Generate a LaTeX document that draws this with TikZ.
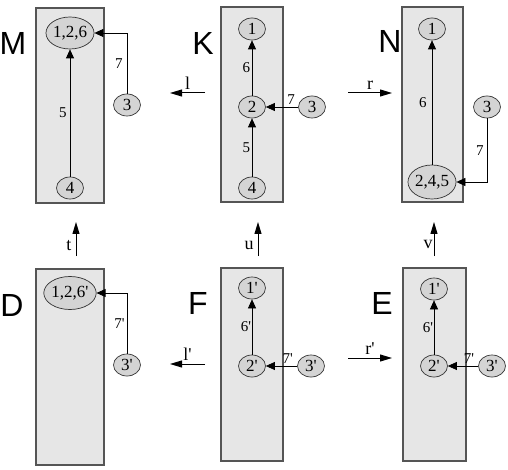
\documentclass[tikz,border=0pt]{standalone}
\usepackage{fontspec}
\setmainfont{Liberation Serif}
\newfontfamily\lblfont{Liberation Sans}
\usetikzlibrary{shapes.geometric,arrows.meta}
\definecolor{boxfill}{HTML}{E6E6E6}
\definecolor{nodefill}{HTML}{D4D4D4}
\definecolor{boxline}{HTML}{555555}
\newcommand{\prm}{\textquotesingle}
\begin{document}
\begin{tikzpicture}[x=1pt,y=-1pt,
  graphbox/.style={draw=boxline, fill=boxfill, line width=1.1pt},
  vtx/.style={ellipse, draw=black!80, fill=nodefill, line width=0.7pt, inner sep=0pt,
    minimum width=27pt, minimum height=22pt, font=\fontsize{17}{17}\selectfont},
  bigvtx/.style={vtx, minimum width=45pt, minimum height=32pt},
  edge/.style={draw, line width=0.7pt, -{Triangle[length=9pt,width=8pt]}},
  elabel/.style={font=\fontsize{15}{15}\selectfont, inner sep=0pt},
  mlabel/.style={font=\fontsize{18}{18}\selectfont, inner sep=0pt},
  graphname/.style={font=\lblfont\fontsize{32}{32}\selectfont, inner sep=0pt},
  morph/.style={draw, line width=1pt, -{Triangle[length=12pt,width=7pt]}}
]
\useasboundingbox (0,0) rectangle (508,470);

% ---------- boxes ----------
\draw[graphbox] (36,8) rectangle (104,203);
\draw[graphbox] (221,7) rectangle (283,202);
\draw[graphbox] (402,7) rectangle (463,202);
\draw[graphbox] (36,269) rectangle (104,465);
\draw[graphbox] (221,268) rectangle (283,461);
\draw[graphbox] (403,268) rectangle (466,461);

% ---------- graph names ----------
\node[graphname] (nameM) at (13,43) {M};
\node[graphname] (nameK) at (203,43) {K};
\node[graphname] (nameN) at (390,41) {N};
\node[graphname] (nameD) at (12,305) {D};
\node[graphname] (nameF) at (198,303) {F};
\node[graphname] (nameE) at (382,303) {E};

% ---------- M ----------
\node[bigvtx] (m126) at (70,33) {1,2,6};
\node[vtx] (m4) at (70,188) {4};
\node[vtx] (m3) at (127,105) {3};
\draw[edge] (m4) -- node[elabel, left=3pt] {5} (m126);
\draw[edge] (m3.north) |- node[elabel, pos=0.25, left=4pt] {7} (m126.east);

% ---------- K ----------
\node[vtx] (k1) at (252,29) {1};
\node[vtx] (k2) at (252,107) {2};
\node[vtx] (k4) at (252,188) {4};
\node[vtx] (k3) at (312,107) {3};
\draw[edge] (k2) -- node[elabel, left=1.5pt] {6} (k1);
\draw[edge] (k4) -- node[elabel, left=1.5pt] {5} (k2);
\draw[edge] (k3) -- node[elabel, pos=0.22, above=2pt] {7} (k2);

% ---------- N ----------
\node[vtx] (n1) at (432,29) {1};
\node[bigvtx, minimum height=34pt] (n245) at (432,182) {2,4,5};
\node[vtx] (n3) at (487,107) {3};
\draw[edge] (n245) -- node[elabel, left=5pt] {6} (n1);
\draw[edge] (n3.south) |- node[elabel, pos=0.25, left=3pt] {7} (n245.east);

% ---------- D ----------
\node[bigvtx, minimum width=50pt, minimum height=33pt] (d126) at (70,293) {1,2,6\prm};
\node[vtx] (d3) at (127,365) {3\prm};
\draw[edge] (d3.north) |- node[elabel, pos=0.25, left=2pt] {7\prm} (d126.east);

% ---------- F ----------
\node[vtx] (f1) at (252,288) {1\prm};
\node[vtx] (f2) at (252,366) {2\prm};
\node[vtx] (f3) at (311,366) {3\prm};
\draw[edge] (f2) -- node[elabel, left=0.5pt] {6\prm} (f1);
\draw[edge] (f3) -- node[elabel, pos=0.3, above=2pt] {7\prm} (f2);

% ---------- E ----------
\node[vtx] (e1) at (434,289) {1\prm};
\node[vtx] (e2) at (434,366) {2\prm};
\node[vtx] (e3) at (492,366) {3\prm};
\draw[edge] (e2) -- node[elabel, left=0.5pt] {6\prm} (e1);
\draw[edge] (e3) -- node[elabel, pos=0.3, above=2pt] {7\prm} (e2);

% ---------- morphisms ----------
\coordinate (lS) at (205,93);  \coordinate (lT) at (170,93);
\coordinate (rS) at (348,93);  \coordinate (rT) at (392,93);
\coordinate (tS) at (76,256);  \coordinate (tT) at (76,222);
\coordinate (uS) at (258,256); \coordinate (uT) at (258,222);
\coordinate (vS) at (434,256); \coordinate (vT) at (434,222);
\coordinate (lpS) at (205,364); \coordinate (lpT) at (170,364);
\coordinate (rpS) at (348,358); \coordinate (rpT) at (392,358);

\draw[morph] (lS) -- node[mlabel, above=3pt] {l} (lT);
\draw[morph] (rS) -- node[mlabel, above=3pt] {r} (rT);
\draw[morph] (tS) -- node[mlabel, pos=0.3, left=4pt] {t} (tT);
\draw[morph] (uS) -- node[mlabel, pos=0.3, left=4pt] {u} (uT);
\draw[morph] (vS) -- node[mlabel, pos=0.35, left=1pt] {v} (vT);
\draw[morph] (lpS) -- node[mlabel, above=3pt] {l\prm} (lpT);
\draw[morph] (rpS) -- node[mlabel, above=3pt] {r\prm} (rpT);
\end{tikzpicture}
\end{document}
